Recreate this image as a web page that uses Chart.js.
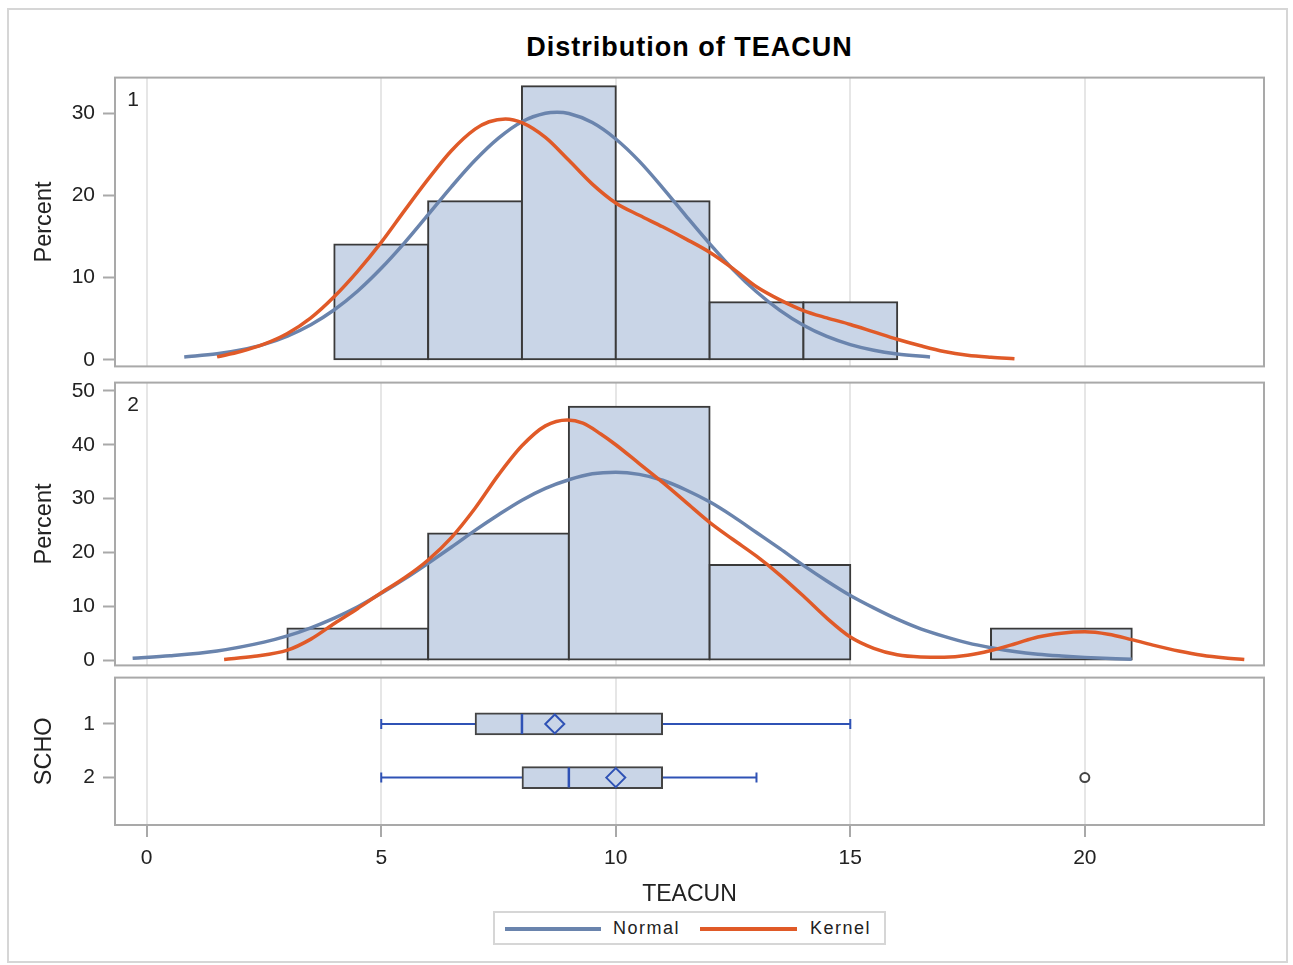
<!DOCTYPE html>
<html>
<head>
<meta charset="utf-8">
<script src="https://cdn.jsdelivr.net/npm/chart.js@4.4.1/dist/chart.umd.min.js"></script>
<style>
  body { margin: 0; background: #fff; font-family: "Liberation Sans", Arial, sans-serif; }
  #page { position: relative; width: 1293px; height: 965px; overflow: hidden; background: #fff; }
  #outer { position: absolute; left: 7px; top: 8px; width: 1277px; height: 951px; border: 2px solid #d6d6d6; }
  canvas { position: absolute; left: 0; }
  #title { position: absolute; left: 115px; width: 1149px; top: 32px; line-height: 30px; text-align: center;
           font-weight: bold; font-size: 27px; color: #000; letter-spacing: 1px; }
  #legend { position: absolute; left: 493px; top: 911px; width: 389px; height: 30px; border: 2px solid #d6d6d6; }
  #legend .sw { position: absolute; top: 14px; height: 4px; }
  #legend .tx { position: absolute; top: 5px; font-size: 18px; letter-spacing: 1.5px; color: #222; }
</style>
</head>
<body>
<div id="page">
  <div id="outer"></div>
  <div id="title">Distribution of TEACUN</div>
  <canvas id="hist1" width="1293" height="330" style="top:57px"></canvas>
  <canvas id="hist2" width="1293" height="324" style="top:362px"></canvas>
  <canvas id="box" width="1293" height="251" style="top:657px"></canvas>
  <div id="legend">
    <div class="sw" style="left:10px;width:96px;background:#6a84ad"></div>
    <div class="tx" style="left:118px">Normal</div>
    <div class="sw" style="left:205px;width:97px;background:#e05a28"></div>
    <div class="tx" style="left:315px">Kernel</div>
  </div>
</div>
<script>
// axis ticks
const xTicks = [0, 5, 10, 15, 20];
const pctTicks1 = [0, 10, 20, 30];
const pctTicks2 = [0, 10, 20, 30, 40, 50];
const groups = ['1', '2'];

// SCHO = 1 : histogram (bin midpoints, percent)
const binMid1 = [5, 7, 9, 11, 13, 15];
const binPct1 = [14.04, 19.30, 33.33, 19.30, 7.02, 7.02];
// SCHO = 2
const binMid2 = [4.5, 7.5, 10.5, 13.5, 16.5, 19.5];
const binPct2 = [5.88, 23.53, 47.06, 17.65, 0, 5.88];

// fitted curves
const normX1 = [0.8, 1.5, 2.0, 2.5, 3.0, 3.5, 4.0, 4.5, 5.0, 5.5, 6.0, 6.5, 7.0, 7.5, 8.0, 8.5, 8.75, 9.0, 9.5, 10.0, 10.5, 11.0, 11.5, 12.0, 12.5, 13.0, 13.5, 14.0, 14.5, 15.0, 15.5, 16.0, 16.7];
const normY1 = [0.33, 0.72, 1.19, 1.88, 2.89, 4.27, 6.09, 8.38, 11.14, 14.27, 17.67, 21.1, 24.3, 27.0, 29.0, 30.03, 30.15, 30.0, 28.9, 26.9, 24.2, 20.95, 17.5, 14.14, 11.0, 8.28, 6.01, 4.2, 2.84, 1.85, 1.16, 0.71, 0.33];
const kernX1 = [1.5, 2.0, 2.5, 3.0, 3.5, 4.0, 4.5, 5.0, 5.5, 6.0, 6.5, 7.0, 7.3, 7.65, 8.0, 8.5, 9.0, 9.5, 10.0, 10.5, 11.0, 11.5, 12.0, 12.5, 13.0, 13.5, 14.0, 14.5, 15.0, 15.5, 16.0, 16.5, 17.0, 17.5, 18.0, 18.5];
const kernY1 = [0.35, 1.0, 1.9, 3.2, 5.1, 7.7, 10.8, 14.3, 18.2, 22.0, 25.5, 28.1, 29.0, 29.35, 28.9, 27.1, 24.3, 21.4, 19.1, 17.6, 16.2, 14.7, 13.1, 11.1, 8.9, 7.3, 6.0, 5.1, 4.3, 3.4, 2.5, 1.7, 1.0, 0.55, 0.3, 0.12];

const normX2 = [-0.3, 0.5, 1.5, 2.5, 3.0, 3.5, 4.0, 4.5, 5.0, 5.5, 6.0, 6.5, 7.0, 7.5, 8.0, 8.5, 9.0, 9.5, 10.0, 10.5, 11.0, 11.5, 12.0, 12.5, 13.0, 13.5, 14.0, 14.5, 15.0, 15.5, 16.0, 16.5, 17.0, 17.5, 18.0, 18.5, 19.0, 19.5, 20.0, 21.0];
const normY2 = [0.35, 0.81, 1.71, 3.35, 4.5, 6.0, 7.8, 9.9, 12.4, 15.1, 18.0, 21.0, 24.1, 27.0, 29.7, 31.9, 33.5, 34.6, 34.9, 34.5, 33.4, 31.6, 29.4, 26.7, 23.7, 20.7, 17.6, 14.7, 12.0, 9.7, 7.6, 5.8, 4.4, 3.2, 2.3, 1.6, 1.1, 0.77, 0.51, 0.15];
const kernX2 = [1.65, 2.3, 3.0, 3.5, 4.0, 4.5, 5.0, 5.5, 6.0, 6.5, 7.0, 7.5, 8.0, 8.5, 8.97, 9.3, 9.68, 10.0, 10.5, 11.0, 11.5, 12.0, 12.5, 13.0, 13.5, 14.0, 14.5, 15.0, 15.5, 16.0, 16.5, 17.0, 17.5, 18.0, 18.5, 19.0, 19.5, 20.0, 20.5, 21.0, 21.5, 22.0, 22.5, 23.0, 23.4];
const kernY2 = [0.13, 0.7, 1.85, 3.9, 6.8, 9.6, 12.5, 15.3, 18.6, 22.8, 28.2, 34.4, 39.8, 43.5, 44.6, 44.0, 42.0, 40.0, 36.5, 33.0, 29.3, 25.6, 22.4, 19.3, 15.8, 11.9, 7.8, 4.3, 2.2, 1.0, 0.6, 0.55, 0.9, 1.8, 3.0, 4.3, 5.0, 5.25, 4.8, 3.8, 2.7, 1.7, 0.9, 0.4, 0.13];

// box plot stats per SCHO group
const boxMin = [5, 5];
const boxQ1 = [7, 8];
const boxMed = [8, 9];
const boxMean = [8.7, 10];
const boxQ3 = [11, 11];
const boxMax = [15, 13];
const outX = [20];
const outGroup = [2];

const FILL = '#c9d5e7';
const NORMAL = '#6a84ad';
const KERNEL = '#e05a28';
const BOXBLUE = '#2f52b5';
const TEXT = '#222';

Chart.defaults.font.family = '"Liberation Sans", Arial, sans-serif';
Chart.defaults.animation = false;
Chart.defaults.events = [];
Chart.defaults.plugins.legend.display = false;
Chart.defaults.plugins.tooltip.enabled = false;

// frame around each panel + the little group tag in the corner
Chart.register({
  id: 'panelFrame',
  afterDraw(chart, args, opts) {
    const { ctx, chartArea: a } = chart;
    ctx.save();
    ctx.strokeStyle = '#a9a9a9';
    ctx.lineWidth = 2;
    ctx.strokeRect(a.left, a.top, a.right - a.left, a.bottom - a.top);
    if (opts.tag) {
      ctx.fillStyle = TEXT;
      ctx.font = '21px "Liberation Sans", Arial, sans-serif';
      ctx.textAlign = 'center';
      ctx.textBaseline = 'middle';
      ctx.fillText(opts.tag, a.left + 18, a.top + 23);
    }
    ctx.restore();
  }
});

const pts = (xs, ys) => xs.map((x, i) => ({ x: x, y: ys[i] }));

function xScale(bottom) {
  return {
    type: 'linear', min: -0.676, max: 23.82, offset: false,
    afterBuildTicks: s => { s.ticks = xTicks.map(v => ({ value: v })); },
    grid: { color: '#e6e6e6', lineWidth: 2, offset: false, drawTicks: bottom, tickLength: 12, tickColor: '#a9a9a9', tickWidth: 2 },
    border: { display: false },
    ticks: { display: bottom, color: TEXT, font: { size: 21 }, padding: 9, maxRotation: 0 },
    title: { display: bottom, text: 'TEACUN', color: TEXT, font: { size: 23 }, padding: { top: 0, bottom: 0 } },
    afterFit: s => { s.height = bottom ? 83 : 0; }
  };
}

function yScale(extra) {
  return Object.assign({
    type: 'linear', offset: false,
    grid: { drawOnChartArea: false, drawTicks: true, tickLength: 12, tickColor: '#a9a9a9', tickWidth: 2, offset: false },
    border: { display: false },
    ticks: { color: TEXT, font: { size: 21 }, padding: 8 },
    title: { display: true, text: 'Percent', color: TEXT, font: { size: 23.5 }, padding: { top: 30, bottom: 0 } },
    afterFit: s => { s.width = 115; }
  }, extra);
}

function makeHist(id, mids, pcts, nx, ny, kx, ky, yTicks, yMin, yMax, tag) {
  new Chart(document.getElementById(id), {
    type: 'bar',
    data: {
      datasets: [
        { type: 'line', label: 'Normal', data: pts(nx, ny), borderColor: NORMAL, borderWidth: 3.5,
          pointRadius: 0, cubicInterpolationMode: 'monotone', order: 2 },
        { type: 'line', label: 'Kernel', data: pts(kx, ky), borderColor: KERNEL, borderWidth: 3.5,
          pointRadius: 0, cubicInterpolationMode: 'monotone', order: 1 },
        { type: 'bar', label: 'Percent', data: pts(mids, pcts), backgroundColor: FILL, borderColor: '#3a3a3a',
          borderWidth: 2, borderSkipped: false, inflateAmount: 1, barPercentage: 1, categoryPercentage: 1, order: 3 }
      ]
    },
    options: {
      responsive: false,
      devicePixelRatio: 1,
      layout: { padding: { left: 0, right: 29, top: 20, bottom: 20 } },
      scales: {
        x: xScale(false),
        y: yScale({ min: yMin, max: yMax, afterBuildTicks: s => { s.ticks = yTicks.map(v => ({ value: v })); } })
      },
      plugins: { panelFrame: { tag: tag } }
    }
  });
}

makeHist('hist1', binMid1, binPct1, normX1, normY1, kernX1, kernY1, pctTicks1, -0.81, 34.38, '1');
makeHist('hist2', binMid2, binPct2, normX2, normY2, kernX2, kernY2, pctTicks2, -0.98, 51.54, '2');

// box plot panel
const gy = groups.map((g, i) => i + 1);
const boxDatasets = [];
gy.forEach((y, i) => {
  boxDatasets.push({ type: 'line', data: [{ x: boxMin[i], y: y }, { x: boxMax[i], y: y }],
    borderColor: BOXBLUE, borderWidth: 2, pointRadius: 0, order: 6 });
});
boxDatasets.push({ type: 'scatter', data: pts(boxMin.concat(boxMax), gy.concat(gy)),
  pointStyle: 'line', rotation: 90, radius: 5, borderColor: BOXBLUE, borderWidth: 2, order: 5 });
boxDatasets.push({ type: 'bar', indexAxis: 'y', data: gy.map((y, i) => ({ y: y, x: [boxQ1[i], boxQ3[i]] })),
  backgroundColor: FILL, borderColor: '#444', borderWidth: 2, borderSkipped: false, barThickness: 22, order: 4 });
boxDatasets.push({ type: 'scatter', data: pts(boxMed, gy),
  pointStyle: 'line', rotation: 90, radius: 10, borderColor: BOXBLUE, borderWidth: 2.5, order: 3 });
boxDatasets.push({ type: 'scatter', data: pts(boxMean, gy),
  pointStyle: 'rectRot', radius: 9.5, borderColor: BOXBLUE, backgroundColor: 'rgba(0,0,0,0)', borderWidth: 2, order: 2 });
boxDatasets.push({ type: 'scatter', data: pts(outX, outGroup),
  pointStyle: 'circle', radius: 4.5, borderColor: '#444', backgroundColor: '#fff', borderWidth: 2, order: 1 });

new Chart(document.getElementById('box'), {
  type: 'scatter',
  data: { datasets: boxDatasets },
  options: {
    responsive: false,
    devicePixelRatio: 1,
    layout: { padding: { left: 0, right: 29, top: 20, bottom: 0 } },
    scales: {
      x: xScale(true),
      y: yScale({
        min: 0.137, max: 2.883, reverse: true,
        afterBuildTicks: s => { s.ticks = gy.map(v => ({ value: v })); },
        ticks: { color: TEXT, font: { size: 21 }, padding: 8, callback: v => groups[v - 1] },
        title: { display: true, text: 'SCHO', color: TEXT, font: { size: 23.5 }, padding: { top: 30, bottom: 0 } }
      })
    },
    plugins: { panelFrame: {} }
  }
});
</script>
</body>
</html>
